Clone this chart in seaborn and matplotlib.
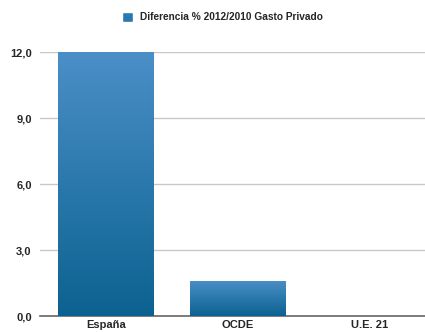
import numpy as np
import pandas as pd
import matplotlib
matplotlib.use('Agg')
import matplotlib.pyplot as plt
import seaborn as sns
from matplotlib.colors import LinearSegmentedColormap
from matplotlib.patches import Rectangle

categories = ['España', 'OCDE', 'U.E. 21']
values = [12.0, 1.6, 0.0]
series_name = 'Diferencia % 2012/2010 Gasto Privado'
yticks = [0, 3, 6, 9, 12]

sns.set_style('white')
plt.rcParams['font.family'] = ['Liberation Sans', 'DejaVu Sans']

df = pd.DataFrame({'cat': categories, 'val': values})

fig = plt.figure(figsize=(4.25, 3.32), dpi=100)
ax = fig.add_axes([40 / 425, 16 / 332, 396 / 425, 264 / 332])

sns.barplot(data=df, x='cat', y='val', color='#2a78b0', width=0.72, ax=ax,
            saturation=1, edgecolor='none', zorder=2)

# gradient fill for each bar
cmap = LinearSegmentedColormap.from_list('g', ['#0b6290', '#4b8fc8'])
grad = np.linspace(0, 1, 256).reshape(-1, 1)
for p in ax.patches:
    h = p.get_height()
    if h <= 0:
        continue
    x0, w = p.get_x(), p.get_width()
    im = ax.imshow(grad, cmap=cmap, aspect='auto', origin='lower',
                   extent=[x0, x0 + w, 0, h], zorder=3)
    im.set_clip_path(p)

ax.set_xlim(-0.5, 2.5)
ax.set_ylim(0, 12)
ax.set_yticks(yticks)
ax.set_yticklabels([f'{v:.1f}'.replace('.', ',') for v in yticks],
                   fontsize=8, fontweight='bold')
ax.set_xticklabels(categories, fontsize=8, fontweight='bold')
ax.set_xlabel('')
ax.set_ylabel('')
ax.tick_params(axis='both', length=0, pad=6)
ax.tick_params(axis='x', pad=3)
ax.yaxis.grid(True, color='#c8c8c8', linewidth=1, zorder=0)
ax.set_axisbelow(True)
for s in ['left', 'right', 'top']:
    ax.spines[s].set_visible(False)
ax.spines['bottom'].set_color('#666666')
ax.spines['bottom'].set_linewidth(1.2)

handle = Rectangle((0, 0), 1, 1, facecolor='#2a78b0')
fig.legend([handle], [series_name], loc='center', bbox_to_anchor=(0.523, 0.948),
           frameon=False, prop={'size': 7.3, 'weight': 'bold'},
           handlelength=1.1, handleheight=1.1, handletextpad=0.7)

fig.savefig('out.png', dpi=100)
